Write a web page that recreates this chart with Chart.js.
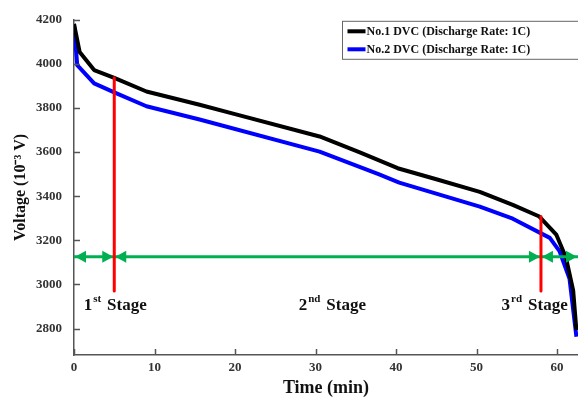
<!DOCTYPE html>
<html>
<head>
<meta charset="utf-8">
<script src="https://cdn.jsdelivr.net/npm/chart.js@4.4.1/dist/chart.umd.min.js"></script>
<style>
  html, body { margin: 0; padding: 0; background: #fff; }
  #wrap { width: 578px; height: 397px; }
</style>
</head>
<body>
<div id="wrap"><canvas id="myChart"></canvas></div>
<script>
// Discharge voltage curves (time in min, voltage in 10^-3 V)
const dvc1Time = [0, 0.7, 2.5, 5, 9, 15.6, 20, 30.5, 35.5, 40.2, 45, 50.4, 54.5, 57.8, 59.9, 61.1, 62.0, 62.4];
const dvc1Volt = [4181, 4054, 3972, 3937, 3875, 3815, 3772, 3671, 3599, 3527, 3477, 3420, 3361, 3308, 3226, 3122, 2973, 2793];

const dvc2Time = [0, 0.4, 2.5, 5, 9, 15.6, 30.5, 37.9, 40.4, 50.4, 54.5, 59.1, 60.3, 61.55, 62.4];
const dvc2Volt = [4181, 3994, 3912, 3871, 3808, 3748, 3602, 3499, 3462, 3353, 3298, 3211, 3151, 3025, 2763];

// stage borders (red) and arrows (green)
const stageBorderX = [5, 58];
const stageBorderTop = [3937, 3308];
const stageBorderBottom = 2970;
const stageArrowX = [0, 5, 58, 62.6];
const stageArrowY = 3125;
const stageNames = ["1", "2", "3"];
const stageSups = ["st", "nd", "rd"];
const stageLabelX = [1.2, 27.9, 53.1];
const stageLabelY = 2883;

const xTicks = [0, 10, 20, 30, 40, 50, 60];
const yTicks = [2800, 3000, 3200, 3400, 3600, 3800, 4000, 4200];

const serif = "'Liberation Serif', 'Times New Roman', serif";

const toPoints = (xs, ys) => xs.map((x, i) => ({ x: x, y: ys[i] }));

const datasets = [
  {
    label: "No.1 DVC (Discharge Rate: 1C)",
    data: toPoints(dvc1Time, dvc1Volt),
    borderColor: "#000000",
    borderWidth: 4,
    order: 2,
  },
  {
    label: "No.2 DVC (Discharge Rate: 1C)",
    data: toPoints(dvc2Time, dvc2Volt),
    borderColor: "#0000ff",
    borderWidth: 4,
    order: 3,
  },
];

stageBorderX.forEach((x, i) => {
  datasets.push({
    label: "border" + i,
    data: [{ x: x, y: stageBorderTop[i] }, { x: x, y: stageBorderBottom }],
    borderColor: "#ff0000",
    borderWidth: 3,
    order: 0,
  });
});

datasets.push({
  label: "arrows",
  data: [
    { x: stageArrowX[0], y: stageArrowY },
    { x: stageArrowX[stageArrowX.length - 1], y: stageArrowY },
  ],
  borderColor: "#00b050",
  borderWidth: 3,
  order: 1,
});

const ARROW_INDEX = datasets.length - 1;

// arrow heads on the green line, drawn before the red borders
const arrowHeads = {
  id: "arrowHeads",
  afterDatasetDraw(chart, args) {
    if (args.index !== ARROW_INDEX) return;
    const ctx = chart.ctx;
    const xs = chart.scales.x;
    const py = chart.scales.y.getPixelForValue(stageArrowY);
    const len = 11;
    const half = 6;
    ctx.save();
    ctx.fillStyle = "#00b050";
    for (let i = 0; i < stageArrowX.length - 1; i++) {
      const a = xs.getPixelForValue(stageArrowX[i]);
      const b = xs.getPixelForValue(stageArrowX[i + 1]);
      ctx.beginPath();
      ctx.moveTo(a + 1, py);
      ctx.lineTo(a + 1 + len, py - half);
      ctx.lineTo(a + 1 + len, py + half);
      ctx.closePath();
      ctx.fill();
      ctx.beginPath();
      ctx.moveTo(b - 1, py);
      ctx.lineTo(b - 1 - len, py - half);
      ctx.lineTo(b - 1 - len, py + half);
      ctx.closePath();
      ctx.fill();
    }
    ctx.restore();
  },
};

// inward tick marks, stage labels and the boxed legend
const extras = {
  id: "extras",
  afterDraw(chart) {
    const ctx = chart.ctx;
    const xs = chart.scales.x;
    const ys = chart.scales.y;
    const area = chart.chartArea;

    ctx.save();
    ctx.strokeStyle = "#555";
    ctx.lineWidth = 1.5;
    xTicks.forEach((v) => {
      const px = Math.round(xs.getPixelForValue(v)) + 0.5;
      ctx.beginPath();
      ctx.moveTo(px, area.bottom);
      ctx.lineTo(px, area.bottom - 6);
      ctx.stroke();
    });
    yTicks.forEach((v) => {
      const py = Math.round(ys.getPixelForValue(v)) + 0.5;
      ctx.beginPath();
      ctx.moveTo(area.left, py);
      ctx.lineTo(area.left + 6, py);
      ctx.stroke();
    });

    // stage labels
    ctx.fillStyle = "#111";
    ctx.textBaseline = "alphabetic";
    ctx.textAlign = "left";
    stageNames.forEach((n, i) => {
      let px = xs.getPixelForValue(stageLabelX[i]);
      const py = ys.getPixelForValue(stageLabelY);
      ctx.font = "bold 17px " + serif;
      ctx.fillText(n, px, py);
      px += ctx.measureText(n).width + 1;
      ctx.font = "bold 11px " + serif;
      ctx.fillText(stageSups[i], px, py - 8);
      px += ctx.measureText(stageSups[i]).width + 6;
      ctx.font = "bold 17px " + serif;
      ctx.fillText("Stage", px, py);
    });

    // legend box
    const boxW = 236;
    const boxH = 38;
    const bx = area.right - boxW + 0.5;
    const by = area.top + 1.5;
    ctx.fillStyle = "#fff";
    ctx.fillRect(bx, by, boxW, boxH);
    ctx.strokeStyle = "#666";
    ctx.lineWidth = 1;
    ctx.strokeRect(bx, by, boxW, boxH);
    ctx.font = "bold 12px " + serif;
    ctx.textBaseline = "middle";
    [0, 1].forEach((i) => {
      const ds = chart.data.datasets[i];
      const cy = by + 10 + i * 18;
      ctx.fillStyle = ds.borderColor;
      ctx.fillRect(bx + 5, cy - 2, 18, 4);
      ctx.fillStyle = "#111";
      ctx.fillText(ds.label, bx + 24, cy + 1);
    });
    ctx.restore();
  },
};

const ctx = document.getElementById("myChart");

new Chart(ctx, {
  type: "scatter",
  data: { datasets: datasets },
  options: {
    responsive: true,
    maintainAspectRatio: false,
    animation: false,
    showLine: true,
    elements: {
      point: { radius: 0, hoverRadius: 0 },
      line: { tension: 0, borderCapStyle: "butt", borderJoinStyle: "round" },
    },
    layout: { padding: { top: 16, right: 0, left: 0, bottom: 0 } },
    plugins: {
      legend: { display: false },
      tooltip: { enabled: false },
    },
    scales: {
      x: {
        type: "linear",
        min: 0,
        max: 62.6,
        afterBuildTicks: (scale) => {
          scale.ticks = xTicks.map((v) => ({ value: v }));
        },
        afterFit: (scale) => {
          scale.height = 42;
        },
        grid: { display: false, drawTicks: false },
        border: { display: true, color: "#555", width: 1.5 },
        ticks: {
          padding: 5,
          color: "#333",
          font: { family: serif, size: 13, weight: "bold" },
          callback: (v) => String(v),
        },
        title: {
          display: true,
          text: "Time (min)",
          color: "#111",
          padding: { top: 0, bottom: 0 },
          font: { family: serif, size: 18, weight: "bold", lineHeight: 1 },
        },
      },
      y: {
        type: "linear",
        min: 2680,
        max: 4200,
        afterBuildTicks: (scale) => {
          scale.ticks = yTicks.map((v) => ({ value: v }));
        },
        afterFit: (scale) => {
          scale.width = 74;
        },
        grid: { display: false, drawTicks: false },
        border: { display: true, color: "#555", width: 1.5 },
        ticks: {
          padding: 12,
          color: "#333",
          font: { family: serif, size: 13, weight: "bold" },
          callback: (v) => String(v),
        },
        title: {
          display: true,
          text: "Voltage (10⁻³ V)",
          color: "#111",
          padding: { top: 13, bottom: 0 },
          font: { family: serif, size: 16, weight: "bold", lineHeight: 1 },
        },
      },
    },
  },
  plugins: [arrowHeads, extras],
});
</script>
</body>
</html>
